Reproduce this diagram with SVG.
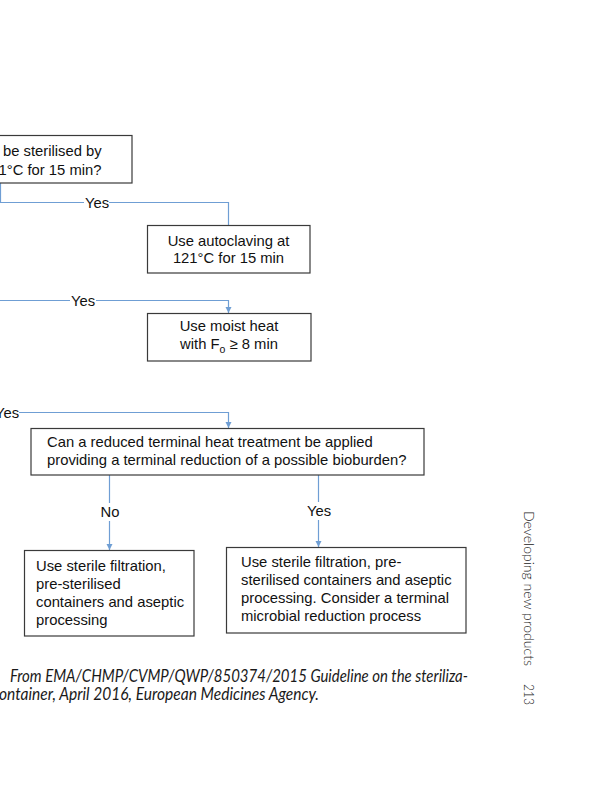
<svg xmlns="http://www.w3.org/2000/svg" width="599" height="800" viewBox="0 0 599 800">
<style>
.box{fill:#fff;stroke:#3a3a3a;stroke-width:1.2}
.t{font-family:"Liberation Sans",Arial,sans-serif;font-size:14.8px;fill:#111}
.c{text-anchor:middle}
.ln{fill:none;stroke:#6f9ed4;stroke-width:1.2}
.lbl{font-family:"Liberation Sans",Arial,sans-serif;font-size:14.8px;fill:#111;text-anchor:middle}
.cap{font-family:Lato,"Open Sans",sans-serif;font-style:italic;font-size:16.5px;fill:#1a1a1a}
.side{font-family:Lato,"Open Sans",sans-serif;font-weight:300;font-size:14px;fill:#222}
</style>
<defs>
<marker id="ar" viewBox="0 0 10 10" refX="10" refY="5" markerWidth="6" markerHeight="7" orient="auto" markerUnits="userSpaceOnUse">
<path d="M0,0 L10,5 L0,10 z" fill="#6f9ed4"/>
</marker>
</defs>
<rect width="599" height="800" fill="#fff"/>

<g id="connectors">
<path class="ln" d="M0.5,183 V202.5 H84 M109,202.5 H228.5 V226"/>
<path class="ln" d="M0,300.5 H70 M96,300.5 H228.5 V313" marker-end="url(#ar)"/>
<path class="ln" d="M19,412.5 H228.5 V428" marker-end="url(#ar)"/>
<path class="ln" d="M109.5,475 V503 M109.5,521 V550" marker-end="url(#ar)"/>
<path class="ln" d="M318.5,475 V502 M318.5,520 V547" marker-end="url(#ar)"/>
<text class="lbl" x="97" y="207.5">Yes</text>
<text class="lbl" x="83" y="305.5">Yes</text>
<text class="lbl" x="7" y="417.5">Yes</text>
<text class="lbl" x="110" y="517">No</text>
<text class="lbl" x="319" y="516">Yes</text>
</g>

<g id="q1">
<rect class="box" x="-10" y="135.5" width="142" height="47.5"/>
<text class="t" x="3" y="156">be sterilised by</text>
<text class="t" x="-1.5" y="174.5">1°C for 15 min?</text>
</g>

<g id="autoclave">
<rect class="box" x="147.5" y="225.5" width="162.5" height="47.5"/>
<text class="t c" x="228.5" y="246">Use autoclaving at</text>
<text class="t c" x="228.5" y="263">121°C for 15 min</text>
</g>

<g id="moist">
<rect class="box" x="147.5" y="313.5" width="163.5" height="47.5"/>
<text class="t c" x="229" y="331">Use moist heat</text>
<text class="t c" x="229" y="349">with F<tspan font-size="10.5" dy="4">o</tspan><tspan dy="-4"> ≥ 8 min</tspan></text>
</g>

<g id="q3">
<rect class="box" x="31" y="428.5" width="393" height="46.5"/>
<text class="t" x="47" y="446.5">Can a reduced terminal heat treatment be applied</text>
<text class="t" x="47" y="464.5">providing a terminal reduction of a possible bioburden?</text>
</g>

<g id="no-result">
<rect class="box" x="24.5" y="550.5" width="169.5" height="85.5"/>
<text class="t" x="36" y="571">Use sterile filtration,</text>
<text class="t" x="36" y="589">pre-sterilised</text>
<text class="t" x="36" y="607">containers and aseptic</text>
<text class="t" x="36" y="625">processing</text>
</g>

<g id="yes-result">
<rect class="box" x="226.5" y="547.5" width="239.5" height="85.5"/>
<text class="t" x="241" y="567">Use sterile filtration, pre-</text>
<text class="t" x="241" y="585">sterilised containers and aseptic</text>
<text class="t" x="241" y="603">processing. Consider a terminal</text>
<text class="t" x="241" y="621">microbial reduction process</text>
</g>

<g id="caption">
<text class="cap" x="10" y="682" textLength="458" lengthAdjust="spacingAndGlyphs">From EMA/CHMP/CVMP/QWP/850374/2015 Guideline on the steriliza-</text>
<text class="cap" x="-1" y="700" textLength="320" lengthAdjust="spacingAndGlyphs">ontainer, April 2016, European Medicines Agency.</text>
</g>

<g id="running-head">
<text class="side" transform="translate(524,511) rotate(90)" textLength="155" lengthAdjust="spacingAndGlyphs">Developing new products</text>
<text class="side" transform="translate(524,684) rotate(90)" textLength="21" lengthAdjust="spacingAndGlyphs">213</text>
</g>
</svg>
